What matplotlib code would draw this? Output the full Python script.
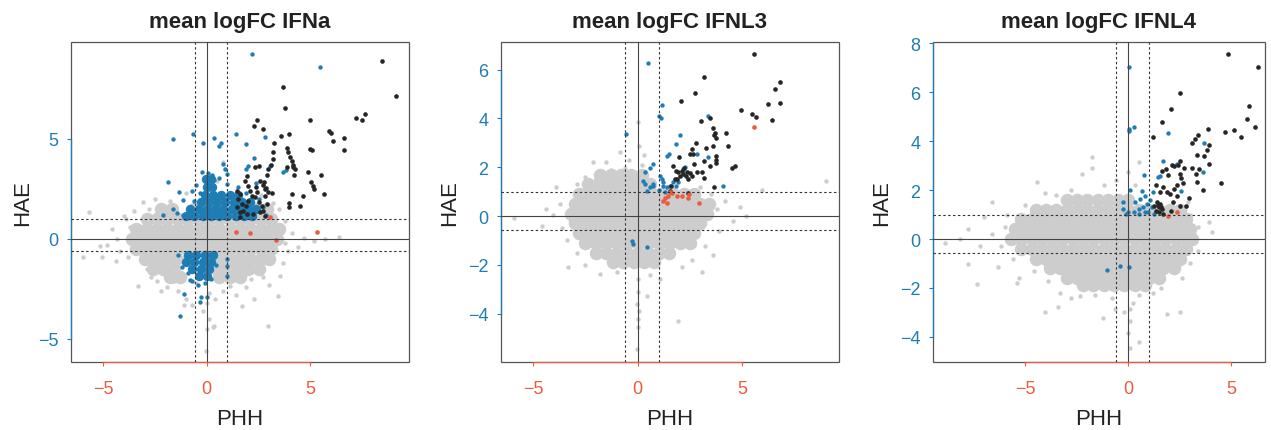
import matplotlib
matplotlib.use("Agg")
import matplotlib.pyplot as plt
from matplotlib.patches import Rectangle

plt.rcParams["font.family"] = ["Liberation Sans", "DejaVu Sans"]

RED = "#ee5a3e"
BLUE = "#1f7db6"
GREY = "#cdcdcd"
BLACK = "#262626"

titles = ["mean logFC IFNa", "mean logFC IFNL3", "mean logFC IFNL4"]

# ---------------- IFNa ----------------
# dense part of the grey cloud (drawn with bigger dots)
ifna_grey_core = [
    (-2.2, 1.5), (-1.7, 1.5), (-0.6, 1.5), (0.5, 1.5), (1.3, 1.5), (1.9, 1.5), (2.4, 1.5), (2.9, 1.5),
    (-2.9, 1.0), (-2.4, 1.0), (-1.9, 1.0), (-1.4, 1.0), (-0.9, 1.0), (-0.4, 1.0), (0.1, 1.0),
    (0.6, 1.0), (1.1, 1.0), (1.6, 1.0), (2.1, 1.0), (2.6, 1.0), (3.1, 1.0),
    (-3.4, 0.5), (-2.9, 0.5), (-2.4, 0.5), (-1.9, 0.5), (-1.4, 0.5), (-0.9, 0.5), (-0.4, 0.5),
    (0.1, 0.5), (0.6, 0.5), (1.1, 0.5), (1.6, 0.5), (2.1, 0.5), (2.6, 0.5), (3.1, 0.5), (3.5, 0.5),
    (-3.6, 0.0), (-3.1, 0.0), (-2.6, 0.0), (-2.1, 0.0), (-1.6, 0.0), (-1.1, 0.0), (-0.6, 0.0),
    (-0.1, 0.0), (0.4, 0.0), (0.9, 0.0), (1.4, 0.0), (1.9, 0.0), (2.4, 0.0), (2.9, 0.0), (3.4, 0.0),
    (-3.4, -0.5), (-2.9, -0.5), (-2.4, -0.5), (-1.9, -0.5), (-1.4, -0.5), (-0.9, -0.5), (-0.4, -0.5),
    (0.1, -0.5), (0.6, -0.5), (1.1, -0.5), (1.6, -0.5), (2.1, -0.5), (2.6, -0.5), (3.1, -0.5),
    (-3.0, -1.0), (-2.5, -1.0), (-2.0, -1.0), (-1.5, -1.0), (-0.9, -1.0), (0.3, -1.0), (0.7, -1.0),
    (1.1, -1.0), (1.6, -1.0), (2.1, -1.0), (2.6, -1.0), (3.0, -1.0),
    (-2.6, -1.5), (-2.1, -1.5), (-1.6, -1.5), (0.5, -1.5), (1.0, -1.5), (1.5, -1.5), (2.0, -1.5), (2.5, -1.5),
    (-1.8, -1.9), (-1.3, -1.9), (0.6, -1.9), (1.1, -1.9), (1.6, -1.9),
]
ifna_grey = [
    (-5.67, 1.33), (-5.96, -0.92), (-5.15, -0.33), (-5.07, -0.92), (-4.35, 0.0), (-4.6, 0.5),
    (-4.2, -0.6), (-3.98, 1.17), (-4.4, -1.1), (-4.8, -0.3), (-3.33, -2.33), (-3.06, 1.83),
    (-2.5, 2.0), (-3.5, 1.4), (-2.69, -1.92), (-2.9, -1.5), (-2.4, -2.1), (-2.2, -2.6),
    (-1.9, -2.4), (-1.4, -2.6), (-1.1, -3.3), (-1.0, -3.0), (-0.7, -3.3), (-0.2, -3.6),
    (0.03, -4.5), (0.32, -4.42), (-0.03, -5.58), (0.1, -4.0), (0.37, -4.33), (0.4, -3.0),
    (0.8, -2.6), (1.13, -2.33), (1.4, -2.8), (1.69, -3.33), (2.14, -2.0), (2.3, -3.0),
    (2.7, -1.9), (2.95, -4.33), (3.43, -2.87), (3.54, -1.83), (3.7, -1.2), (3.9, -0.6),
    (4.1, 0.3), (4.7, 0.05), (5.2, -0.1), (5.7, 0.0), (6.4, 0.1), (3.8, 0.9), (3.5, 1.5),
    (3.2, 1.8), (2.6, 2.2), (0.8, 3.83), (0.88, 3.5), (0.5, 2.9), (-1.0, 2.3), (-1.8, 1.9),
    (-0.5, -2.2), (-3.9, 1.0), (-3.8, -0.9), (-3.7, 0.6), (3.8, -0.2), (4.4, -0.4),
    (-1.6, -2.1), (0.0, -3.2), (0.1, -2.7), (1.0, -1.9), (1.9, -2.4), (-2.8, 1.5), (3.0, -2.3),
]
ifna_blue_core = [
    (-1.0, 1.15), (-0.6, 1.15), (-0.2, 1.15), (0.2, 1.15), (0.6, 1.15), (1.0, 1.15), (1.4, 1.15), (1.8, 1.15), (2.2, 1.15),
    (-0.8, 1.5), (-0.4, 1.5), (0.0, 1.5), (0.4, 1.5), (0.8, 1.5), (1.2, 1.5), (1.6, 1.5), (2.0, 1.5), (2.4, 1.5),
    (-0.3, 1.85), (0.1, 1.85), (0.5, 1.85), (0.9, 1.85), (1.3, 1.85), (1.7, 1.85), (2.1, 1.85),
    (-0.1, 2.2), (0.3, 2.2), (0.7, 2.2), (1.1, 2.2), (1.5, 2.2),
    (0.0, 2.6), (0.25, 2.6), (-0.05, 3.0), (0.2, 3.0),
    (-0.9, -0.8), (-0.5, -0.8), (-0.1, -0.8), (0.3, -0.8),
    (-1.0, -1.15), (-0.6, -1.15), (-0.2, -1.15), (0.2, -1.15),
    (-0.7, -1.5), (-0.3, -1.5), (0.1, -1.5), (-0.4, -1.85), (0.0, -1.85),
]
ifna_blue = [
    (2.2, 9.23), (5.47, 8.62), (-1.64, 5.0), (-0.65, 5.25), (-0.16, 4.8), (0.35, 5.03),
    (0.59, 4.63), (0.68, 4.8), (1.43, 5.25), (1.9, 4.77), (2.82, 5.08), (2.29, 4.03),
    (1.9, 3.5), (2.01, 3.67), (3.06, 3.67), (3.7, 3.33), (3.82, 3.45), (0.8, 3.75),
    (0.88, 3.5), (0.97, 3.25), (-0.24, 3.33), (0.05, 3.3), (0.24, 3.2), (-1.87, 2.83),
    (-1.32, 2.33), (-1.16, 1.97), (-1.61, 1.5), (-2.13, 1.2), (-1.13, 1.2), (-1.45, 1.3),
    (-0.6, 1.9), (-0.7, 2.4), (-0.5, 2.7), (0.35, 2.95), (0.6, 3.05), (1.0, 2.75),
    (1.5, 2.6), (1.9, 2.3), (2.5, 2.0), (2.7, 1.6), (2.85, 1.2), (2.4, 2.8), (-0.85, 1.55),
    (-0.35, 2.3), (-1.4, -0.8), (-1.2, -1.4), (-0.9, -1.7), (-1.08, -2.75), (-1.29, -3.83),
    (-0.32, -3.17), (0.03, -2.92), (-0.28, -2.92), (-0.72, -2.08), (-0.43, -2.3),
    (0.99, -1.83), (0.99, -1.33), (0.98, -1.0), (0.4, -0.7), (-0.1, -2.2), (0.2, -2.0),
    (-0.8, -2.05), (0.45, -1.3),
]
ifna_black = [
    (8.45, 8.92), (9.15, 7.13), (3.67, 7.58), (3.8, 6.53), (2.43, 5.95), (2.27, 5.67), (2.7, 5.5),
    (4.99, 5.95), (7.21, 6.03), (7.52, 5.95), (7.66, 6.23), (5.91, 5.42), (6.0, 5.3), (6.12, 4.92),
    (6.65, 5.03), (6.65, 4.47), (4.99, 4.5), (5.07, 4.45), (3.99, 5.25), (3.57, 5.13), (3.25, 4.78),
    (3.19, 4.33), (3.19, 4.0), (3.09, 3.7), (2.98, 3.5), (2.9, 3.2), (2.78, 2.87), (2.86, 2.53),
    (3.14, 2.3), (3.86, 4.53), (3.94, 4.33), (4.02, 4.1), (4.1, 3.9), (4.18, 3.7), (4.27, 3.5),
    (3.89, 3.62), (4.16, 3.58), (4.23, 3.18), (4.91, 3.33), (5.51, 3.2), (5.05, 2.83), (5.12, 2.67),
    (5.2, 2.5), (5.65, 2.23), (4.14, 2.23), (4.67, 2.13), (3.96, 1.8), (3.96, 1.58), (4.51, 1.63),
    (2.5, 3.67), (2.33, 3.6), (1.93, 3.17), (1.85, 2.92), (2.01, 2.67), (2.09, 2.42), (2.17, 2.17),
    (2.01, 1.92), (1.9, 1.67), (1.77, 1.42), (1.93, 1.25), (1.61, 1.08), (2.57, 2.92), (2.71, 2.7),
    (2.82, 2.5), (2.95, 2.33), (2.38, 2.58), (2.44, 2.33), (2.33, 2.08), (1.45, 2.42), (1.61, 2.25),
    (1.53, 2.0), (1.69, 1.75), (1.45, 1.58), (1.61, 1.33), (2.5, 1.83), (2.66, 1.67), (2.74, 1.42),
    (2.58, 1.33), (2.82, 1.17), (2.25, 1.25), (2.91, 1.75), (2.8, 2.17),
]
ifna_red = [(3.06, 1.08), (1.42, 0.37), (2.09, 0.28), (3.35, -0.03), (5.31, 0.33)]

# ---------------- IFNL3 ----------------
ifnl3_grey_core = [
    (-1.8, 1.7), (-1.3, 1.7), (-0.8, 1.7), (-0.3, 1.7), (0.2, 1.7),
    (-2.4, 1.3), (-1.9, 1.3), (-1.4, 1.3), (-0.9, 1.3), (-0.4, 1.3), (0.1, 1.3), (0.6, 1.3),
    (-2.8, 0.9), (-2.3, 0.9), (-1.8, 0.9), (-1.3, 0.9), (-0.8, 0.9), (-0.3, 0.9), (0.2, 0.9),
    (0.7, 0.9), (1.2, 0.9), (1.7, 0.9), (2.2, 0.9), (2.7, 0.9),
    (-3.0, 0.5), (-2.5, 0.5), (-2.0, 0.5), (-1.5, 0.5), (-1.0, 0.5), (-0.5, 0.5), (0.0, 0.5),
    (0.5, 0.5), (1.0, 0.5), (1.5, 0.5), (2.0, 0.5), (2.5, 0.5), (3.0, 0.5), (3.4, 0.5),
    (-3.2, 0.1), (-2.7, 0.1), (-2.2, 0.1), (-1.7, 0.1), (-1.2, 0.1), (-0.7, 0.1), (-0.2, 0.1),
    (0.3, 0.1), (0.8, 0.1), (1.3, 0.1), (1.8, 0.1), (2.3, 0.1), (2.8, 0.1), (3.3, 0.1),
    (-3.0, -0.3), (-2.5, -0.3), (-2.0, -0.3), (-1.5, -0.3), (-1.0, -0.3), (-0.5, -0.3), (0.0, -0.3),
    (0.5, -0.3), (1.0, -0.3), (1.5, -0.3), (2.0, -0.3), (2.5, -0.3), (3.0, -0.3),
    (-2.8, -0.7), (-2.3, -0.7), (-1.8, -0.7), (-1.3, -0.7), (-0.8, -0.7), (-0.3, -0.7), (0.2, -0.7),
    (0.7, -0.7), (1.2, -0.7), (1.7, -0.7), (2.2, -0.7), (2.7, -0.7),
    (-2.5, -1.1), (-2.0, -1.1), (-1.5, -1.1), (-1.0, -1.1), (-0.5, -1.1), (0.0, -1.1), (0.5, -1.1),
    (1.0, -1.1), (1.5, -1.1), (2.0, -1.1), (2.5, -1.1),
    (-2.0, -1.5), (-1.5, -1.5), (-1.0, -1.5), (-0.5, -1.5), (0.0, -1.5), (0.5, -1.5), (1.0, -1.5), (1.5, -1.5),
    (-1.2, -1.9), (-0.7, -1.9), (-0.2, -1.9), (0.3, -1.9), (0.8, -1.9),
]
ifnl3_grey = [
    (-5.9, -0.08), (-4.04, 0.04), (-3.93, 1.18), (-3.32, -2.1), (-2.12, 2.23), (-0.85, 2.61),
    (0.0, 3.84), (0.07, 2.88), (9.01, 1.45), (5.93, 1.08), (4.57, -0.19), (5.18, 0.01),
    (3.06, -2.31), (1.91, -4.29), (0.0, -4.22), (0.03, -4.56), (-0.02, -5.45), (0.43, -3.27),
    (0.0, -3.13), (1.07, -2.58), (-1.8, -2.38), (3.22, -1.22), (-3.7, 0.5), (-3.6, -0.5),
    (-3.4, -1.0), (-2.9, -1.5), (-2.5, 1.6), (-2.9, 1.3), (-1.5, 2.2), (-0.4, 2.3), (0.3, 2.5),
    (3.8, 0.3), (3.9, -0.6), (3.5, 0.9), (4.2, 0.6), (3.6, -1.6), (2.6, -1.8), (2.1, -2.1),
    (-2.5, -2.0), (-1.0, -2.3), (0.0, -2.6), (-0.05, -3.6), (0.05, -3.9), (0.6, -2.4),
    (0.1, -2.0), (-4.6, -0.4), (-4.4, 0.3), (4.9, 0.35), (3.0, 1.2), (-1.3, 1.9), (-0.6, 1.95),
    (0.2, 2.1),
]
ifnl3_blue = [
    (0.48, 6.28), (-0.56, 3.36), (1.18, 4.55), (1.03, 4.11), (1.13, 4.0), (2.04, 3.32),
    (1.83, 2.96), (1.5, 2.54), (1.39, 2.47), (2.82, 2.54), (3.38, 2.4), (0.75, 2.14),
    (0.59, 1.95), (0.35, 1.82), (0.27, 1.45), (4.1, 1.22), (3.38, 4.08), (1.07, 1.65),
    (1.15, 1.52), (1.22, 1.38), (1.2, 1.24), (1.39, 1.18), (1.55, 1.24), (1.7, 1.38),
    (1.83, 1.24), (0.75, 1.24), (0.59, 1.18), (0.43, 1.04), (0.35, 1.31), (1.94, 1.38),
    (2.18, 1.93), (2.26, 1.99), (-0.29, -1.01), (-0.21, -1.15), (0.43, -1.28), (0.75, 1.31),
    (1.0, 1.05), (1.3, 1.0),
]
ifnl3_black = [
    (5.55, 6.63), (3.19, 5.7), (2.74, 5.04), (2.09, 4.71), (6.82, 5.5), (6.57, 5.2), (6.79, 4.63),
    (6.22, 4.58), (6.43, 3.95), (4.94, 4.36), (5.48, 4.19), (5.67, 4.04), (3.03, 3.89), (3.44, 4.03),
    (3.62, 3.62), (3.7, 3.4), (3.75, 3.21), (3.66, 3.3), (4.24, 3.4), (4.34, 2.88), (3.59, 2.86),
    (3.25, 2.77), (2.78, 2.99), (2.58, 2.75), (2.5, 2.53), (2.66, 2.53), (1.98, 2.4), (3.73, 2.47),
    (3.73, 2.3), (3.73, 2.17), (3.16, 2.27), (3.46, 2.04), (4.5, 1.95), (4.67, 2.06), (2.71, 2.13),
    (2.82, 1.8), (3.06, 1.8), (3.17, 1.54), (1.7, 2.06), (1.83, 1.86), (1.94, 1.79), (2.11, 1.86),
    (2.18, 1.72), (2.31, 1.65), (2.37, 1.82), (2.02, 1.65), (1.78, 1.52), (2.42, 1.52), (2.58, 1.63),
    (3.67, 1.18), (2.41, 0.94), (1.59, 1.24), (1.55, 1.04), (2.2, 1.95), (1.9, 1.5), (2.5, 1.75),
]
ifnl3_red = [
    (5.55, 3.65), (1.47, 0.83), (1.63, 0.93), (1.87, 0.83), (2.11, 0.81), (2.42, 0.73),
    (2.47, 0.9), (1.22, 0.63), (1.39, 0.53), (2.95, 0.53), (1.55, 1.0), (1.3, 0.75),
]

# ---------------- IFNL4 ----------------
ifnl4_grey_core = [
    (-3.0, 1.6), (-2.5, 1.6), (-2.0, 1.6), (-1.5, 1.6), (-1.0, 1.6), (-0.5, 1.6), (0.0, 1.6),
    (-4.5, 1.2), (-4.0, 1.2), (-3.5, 1.2), (-3.0, 1.2), (-2.5, 1.2), (-2.0, 1.2), (-1.5, 1.2),
    (-1.0, 1.2), (-0.5, 1.2), (0.0, 1.2), (0.5, 1.2), (1.0, 1.2), (1.5, 1.2), (2.0, 1.2), (2.5, 1.2),
    (-5.2, 0.8), (-4.7, 0.8), (-4.2, 0.8), (-3.7, 0.8), (-3.2, 0.8), (-2.7, 0.8), (-2.2, 0.8),
    (-1.7, 0.8), (-1.2, 0.8), (-0.7, 0.8), (-0.2, 0.8), (0.3, 0.8), (0.8, 0.8), (1.3, 0.8),
    (1.8, 0.8), (2.3, 0.8), (2.8, 0.8),
    (-5.5, 0.4), (-5.0, 0.4), (-4.5, 0.4), (-4.0, 0.4), (-3.5, 0.4), (-3.0, 0.4), (-2.5, 0.4),
    (-2.0, 0.4), (-1.5, 0.4), (-1.0, 0.4), (-0.5, 0.4), (0.0, 0.4), (0.5, 0.4), (1.0, 0.4),
    (1.5, 0.4), (2.0, 0.4), (2.5, 0.4), (3.0, 0.4),
    (-5.7, 0.0), (-5.2, 0.0), (-4.7, 0.0), (-4.2, 0.0), (-3.7, 0.0), (-3.2, 0.0), (-2.7, 0.0),
    (-2.2, 0.0), (-1.7, 0.0), (-1.2, 0.0), (-0.7, 0.0), (-0.2, 0.0), (0.3, 0.0), (0.8, 0.0),
    (1.3, 0.0), (1.8, 0.0), (2.3, 0.0), (2.8, 0.0), (3.1, 0.0),
    (-5.2, -0.4), (-4.7, -0.4), (-4.2, -0.4), (-3.7, -0.4), (-3.2, -0.4), (-2.7, -0.4), (-2.2, -0.4),
    (-1.7, -0.4), (-1.2, -0.4), (-0.7, -0.4), (-0.2, -0.4), (0.3, -0.4), (0.8, -0.4), (1.3, -0.4),
    (1.8, -0.4), (2.3, -0.4), (2.8, -0.4),
    (-4.5, -0.8), (-4.0, -0.8), (-3.5, -0.8), (-3.0, -0.8), (-2.5, -0.8), (-2.0, -0.8), (-1.5, -0.8),
    (-1.0, -0.8), (-0.5, -0.8), (0.0, -0.8), (0.5, -0.8), (1.0, -0.8), (1.5, -0.8), (2.0, -0.8), (2.5, -0.8),
    (-3.8, -1.2), (-3.3, -1.2), (-2.8, -1.2), (-2.3, -1.2), (-1.8, -1.2), (-1.3, -1.2), (-0.8, -1.2),
    (-0.3, -1.2), (0.2, -1.2), (0.7, -1.2), (1.2, -1.2), (1.7, -1.2), (2.2, -1.2),
    (-3.0, -1.6), (-2.5, -1.6), (-2.0, -1.6), (-1.5, -1.6), (-1.0, -1.6), (-0.5, -1.6), (0.0, -1.6),
    (0.5, -1.6), (1.0, -1.6), (1.5, -1.6),
    (-2.2, -1.9), (-1.7, -1.9), (-1.2, -1.9), (-0.7, -1.9), (-0.2, -1.9), (0.3, -1.9), (0.8, -1.9),
]
ifnl4_grey = [
    (-8.9, -0.16), (-8.17, 0.0), (-7.77, 0.41), (-7.77, -1.02), (-7.36, -1.84), (-6.63, 1.5),
    (-6.99, 0.89), (-6.31, -1.16), (-5.42, -1.78), (-5.3, -1.6), (-4.04, -2.98), (-3.4, -2.8),
    (-4.45, 2.35), (-4.04, 1.87), (-2.26, 2.66), (-1.78, 2.9), (-1.78, 3.37), (-1.21, -3.21),
    (0.08, -2.87), (0.1, -3.35), (0.49, -4.23), (0.1, -4.44), (0.0, -3.83), (1.86, -3.07),
    (2.51, -3.0), (4.05, 0.27), (3.93, 0.68), (3.24, 0.0), (-0.49, 1.78), (0.0, 2.73),
    (0.49, 3.14), (-2.34, -2.32), (-0.65, -2.87), (-6.0, 0.5), (-6.2, -0.3), (-5.9, 1.0),
    (-5.6, -0.8), (-6.6, 0.2), (-7.2, -0.3), (-3.3, -2.2), (-2.8, -2.4), (-1.6, -2.3),
    (-0.8, -2.4), (0.5, -2.3), (1.2, -2.2), (1.6, -2.0), (2.6, -1.6), (3.0, -1.0), (3.4, -0.5),
    (3.4, 0.5), (3.0, 1.0), (2.9, 1.5), (-3.5, 1.8), (-2.8, 2.0), (-1.2, 2.2), (-0.6, 2.4),
    (0.3, 2.2), (-5.0, 1.4), (-4.6, -1.3), (-3.9, -1.7), (0.2, -2.6), (-0.2, -3.0),
]
ifnl4_blue = [
    (0.03, 7.05), (0.03, 4.51), (0.03, 4.43), (0.26, 4.6), (1.91, 4.34), (3.69, 3.92),
    (3.64, 2.73), (2.38, 3.07), (1.67, 3.21), (1.54, 2.57), (1.46, 2.53), (0.76, 2.62),
    (2.54, 1.95), (0.08, 2.02), (0.65, 1.98), (0.33, 1.5), (0.57, 1.64), (0.81, 1.78),
    (1.05, 1.61), (1.18, 1.94), (0.89, 1.43), (0.73, 1.3), (0.49, 1.23), (0.28, 1.12),
    (0.0, 1.09), (-0.24, 1.53), (-0.24, 1.23), (0.97, 1.09), (1.14, 1.3), (-0.11, 1.02),
    (0.53, 1.02), (0.81, 1.09), (1.22, 1.02), (-1.02, -1.26), (-0.4, -1.09), (0.05, -1.13),
]
ifnl4_black = [
    (4.84, 7.57), (6.31, 7.05), (2.5, 5.98), (2.09, 5.3), (1.64, 4.78), (5.87, 5.44), (5.78, 4.89),
    (6.14, 4.59), (3.87, 4.51), (4.68, 4.37), (5.13, 4.47), (5.47, 4.19), (1.17, 4.18), (3.38, 4.26),
    (3.25, 4.1), (3.08, 3.93), (3.93, 3.83), (3.81, 3.66), (3.67, 3.39), (3.35, 3.44), (3.9, 3.07),
    (2.52, 3.21), (2.43, 3.03), (2.11, 3.03), (1.83, 2.87), (1.62, 2.8), (1.91, 2.6), (2.23, 3.0),
    (2.72, 2.9), (3.09, 2.9), (3.43, 2.87), (2.51, 2.66), (2.56, 2.49), (2.64, 2.3), (2.38, 2.19),
    (3.29, 2.66), (3.35, 2.32), (4.5, 2.3), (3.64, 2.02), (1.34, 2.19), (1.67, 2.12), (1.89, 1.91),
    (1.54, 1.91), (2.02, 1.84), (2.22, 2.05), (2.35, 1.78), (2.95, 1.67), (2.18, 1.5), (2.48, 1.37),
    (2.8, 1.37), (1.38, 1.5), (1.54, 1.43), (1.47, 1.3), (1.34, 1.16), (1.62, 1.23), (1.5, 1.09),
    (1.25, 1.37), (1.7, 1.02), (2.06, 1.16), (1.42, 1.4), (1.58, 1.32),
]
ifnl4_red = [(1.93, 0.93), (2.38, 1.12)]

# axis setup per panel
xlims = [(-6.56, 9.77), (-6.54, 9.63), (-9.5, 6.63)]
ylims = [(-6.15, 9.85), (-5.98, 7.13), (-5.03, 8.06)]
yticks = [[-5, 0, 5], [-4, -2, 0, 2, 4, 6], [-4, -2, 0, 2, 4, 6, 8]]
xticks = [-5, 0, 5]
cut_low, cut_high = -0.585, 1.0


def xy(points):
    return [p[0] for p in points], [p[1] for p in points]


def draw_panel(ax, i, core, grey, blue_core, blue, black, red):
    ax.scatter(*xy(core), s=95, color=GREY, linewidths=0, zorder=2)
    ax.scatter(*xy(grey), s=10, color=GREY, linewidths=0, zorder=2)
    if blue_core:
        ax.scatter(*xy(blue_core), s=46, color=BLUE, linewidths=0, zorder=2.1)
    ax.scatter(*xy(blue), s=10, color=BLUE, linewidths=0, zorder=2.1)
    ax.scatter(*xy(black), s=11, color=BLACK, linewidths=0, zorder=2.2)
    ax.scatter(*xy(red), s=11, color=RED, linewidths=0, zorder=2.3)

    ax.axhline(0, color="#444444", lw=0.8, zorder=3)
    ax.axvline(0, color="#444444", lw=0.8, zorder=3)
    for c in (cut_low, cut_high):
        ax.axhline(c, color="#333333", lw=0.8, ls=(0, (2.2, 2.2)), zorder=3)
        ax.axvline(c, color="#333333", lw=0.8, ls=(0, (2.2, 2.2)), zorder=3)

    ax.set_xlim(*xlims[i])
    ax.set_ylim(*ylims[i])
    ax.set_xticks(xticks)
    ax.set_yticks(yticks[i])

    # grey box around the plot, coloured R-style axis lines on top
    ax.add_patch(Rectangle((0, 0), 1, 1, transform=ax.transAxes, fill=False,
                           ec="#555555", lw=0.9, clip_on=False, zorder=2.4))
    for side in ("top", "right"):
        ax.spines[side].set_visible(False)
    ax.spines["bottom"].set_color(RED)
    ax.spines["bottom"].set_bounds(xticks[0], xticks[-1])
    ax.spines["left"].set_color(BLUE)
    ax.spines["left"].set_bounds(yticks[i][0], yticks[i][-1])
    for side in ("bottom", "left"):
        ax.spines[side].set_linewidth(0.9)
        ax.spines[side].set_zorder(2.5)

    ax.tick_params(axis="x", colors=RED, length=3, width=0.8, pad=10, labelsize=13)
    ax.tick_params(axis="y", colors=BLUE, length=3, width=0.8, pad=6, labelsize=13)

    ax.set_title(titles[i], fontsize=16, fontweight="bold", color="#222222", pad=11)
    ax.set_xlabel("PHH", fontsize=16, color="#222222")
    ax.set_ylabel("HAE", fontsize=16, color="#222222")
    ax.xaxis.set_label_coords(0.5, -0.145)


fig = plt.figure(figsize=(12.71, 4.31), dpi=100)
W, H = 1271, 431
ax1 = fig.add_axes([71 / W, 68 / H, 338 / W, 320 / H])
ax2 = fig.add_axes([501 / W, 68 / H, 338 / W, 320 / H])
ax3 = fig.add_axes([932.7 / W, 68 / H, 332.3 / W, 320 / H])

draw_panel(ax1, 0, ifna_grey_core, ifna_grey, ifna_blue_core, ifna_blue, ifna_black, ifna_red)
draw_panel(ax2, 1, ifnl3_grey_core, ifnl3_grey, None, ifnl3_blue, ifnl3_black, ifnl3_red)
draw_panel(ax3, 2, ifnl4_grey_core, ifnl4_grey, None, ifnl4_blue, ifnl4_black, ifnl4_red)

ax1.yaxis.set_label_coords(-0.112, 0.5)
ax2.yaxis.set_label_coords(-0.121, 0.5)
ax3.yaxis.set_label_coords(-0.123, 0.5)

fig.savefig("out.png", dpi=100)
plt.close(fig)
